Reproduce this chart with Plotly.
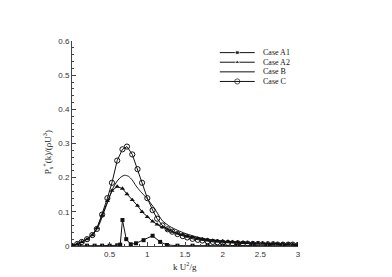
import plotly.graph_objects as go

# ---------------- data ----------------
k_marked = [0, 0.07, 0.13, 0.2, 0.27, 0.33, 0.4, 0.47, 0.53, 0.6, 0.67, 0.73, 0.8, 0.87, 0.93,
            1.0, 1.07, 1.13, 1.2, 1.27, 1.33, 1.4, 1.47, 1.53, 1.6, 1.67, 1.73, 1.8, 1.87, 1.93,
            2.0, 2.07, 2.13, 2.2, 2.27, 2.33, 2.4, 2.47, 2.53, 2.6, 2.67, 2.73, 2.8, 2.87, 2.93, 3.0]

case_c = [0, 0.006, 0.012, 0.02, 0.032, 0.05, 0.092, 0.14, 0.185, 0.25, 0.283, 0.291, 0.268, 0.225, 0.185,
          0.14, 0.105, 0.08, 0.06, 0.049, 0.042, 0.035, 0.029, 0.025, 0.021, 0.018, 0.016, 0.014, 0.012, 0.011,
          0.01, 0.009, 0.008, 0.008, 0.007, 0.007, 0.006, 0.006, 0.005, 0.005, 0.005, 0.004, 0.004, 0.004, 0.004, 0.003]

case_a2 = [0, 0.006, 0.012, 0.02, 0.032, 0.052, 0.09, 0.132, 0.162, 0.174, 0.168, 0.152, 0.135, 0.118, 0.1,
           0.085, 0.072, 0.063, 0.055, 0.048, 0.042, 0.037, 0.033, 0.029, 0.025, 0.022, 0.02, 0.018, 0.016, 0.015,
           0.014, 0.013, 0.012, 0.011, 0.01, 0.009, 0.009, 0.008, 0.008, 0.007, 0.007, 0.006, 0.006, 0.006, 0.005, 0.005]

k_b = [0, 0.1, 0.2, 0.3, 0.35, 0.4, 0.45, 0.5, 0.55, 0.6, 0.65, 0.7, 0.75, 0.8, 0.85, 0.9, 0.95,
       1.0, 1.1, 1.2, 1.3, 1.4, 1.5, 1.6, 1.7, 1.8, 2.0, 2.2, 2.4, 2.6, 2.8, 3.0]
case_b = [0, 0.009, 0.02, 0.04, 0.057, 0.085, 0.115, 0.145, 0.172, 0.19, 0.202, 0.207, 0.204, 0.193, 0.176, 0.162, 0.15,
          0.138, 0.108, 0.074, 0.057, 0.046, 0.037, 0.03, 0.024, 0.02, 0.014, 0.011, 0.008, 0.007, 0.005, 0.004]

k_a1 = [0, 0.1, 0.2, 0.3, 0.4, 0.5, 0.6, 0.64, 0.67, 0.72, 0.78, 0.85, 0.95, 1.07, 1.17, 1.26,
        1.4, 1.6, 1.8, 2.0, 2.2, 2.4, 2.6, 2.8, 3.0]
case_a1 = [0, 0.001, 0.001, 0.001, 0.001, 0.001, 0.002, 0.004, 0.076, 0.02, 0.005, 0.008, 0.017, 0.03, 0.012, 0.003,
           0.001, 0.001, 0.001, 0.001, 0.001, 0.001, 0.001, 0.001, 0.001]

series_names = ["Case A1", "Case A2", "Case B", "Case C"]
x_tick_vals = [0.5, 1, 1.5, 2, 2.5, 3]
x_tick_text = ["0.5", "1", "1.5", "2", "2.5", "3"]
y_tick_vals = [0, 0.1, 0.2, 0.3, 0.4, 0.5, 0.6]
y_tick_text = ["0", "0.1", "0.2", "0.3", "0.4", "0.5", "0.6"]

# ---------------- style / layout ----------------
W, H = 392, 277
OFF = 8  # default page body margin
FW, FH = W - OFF, H - OFF
PL, PR, PT, PB = 72, 298.3, 41, 245.7  # plot area in page pixels
INK = "#111111"
AX = "#444444"
SERIF = "Liberation Serif, Times New Roman, serif"
SANS = "Liberation Sans, Arial, sans-serif"


def px_to_paper(px, py):
    return (px - PL) / (PR - PL), (PB - py) / (PB - PT)


styles = {
    "Case A1": dict(symbol="square", size=4, color=INK),
    "Case A2": dict(symbol="triangle-up", size=4.5, color=INK),
    "Case B": None,
    "Case C": dict(symbol="circle-open", size=5.2, color=INK, line=dict(width=1, color=INK)),
}

fig = go.Figure()
data_map = {
    "Case A1": (k_a1, case_a1),
    "Case A2": (k_marked, case_a2),
    "Case B": (k_b, case_b),
    "Case C": (k_marked, case_c),
}
for name in series_names:
    xs, ys = data_map[name]
    st = styles[name]
    fig.add_trace(go.Scatter(
        x=xs, y=ys, name=name,
        mode="lines+markers" if st else "lines",
        line=dict(color=INK, width=1, shape="spline" if name == "Case B" else "linear", smoothing=0.6),
        marker=st if st else None,
        showlegend=False,
    ))

# manual legend on an overlay axis measured in page pixels
LEG_X0, LEG_X1, LEG_Y0, LEG_DY = 220, 255, 52.6, 9.6
for i, name in enumerate(series_names):
    yy = LEG_Y0 + i * LEG_DY
    st = styles[name]
    fig.add_trace(go.Scatter(
        x=[LEG_X0, (LEG_X0 + LEG_X1) / 2, LEG_X1], y=[yy, yy, yy],
        xaxis="x2", yaxis="y2", mode="lines+markers" if st else "lines",
        line=dict(color=INK, width=1),
        marker=dict(st, size=[0, st["size"], 0]) if st else None,
        showlegend=False, hoverinfo="skip",
    ))
    fig.add_annotation(x=LEG_X1 + 6, y=yy, xref="x2", yref="y2", text=name, showarrow=False,
                       xanchor="left", yanchor="middle", font=dict(family=SERIF, size=8, color=INK))

xt, yt = px_to_paper((PL + PR) / 2, 266)
fig.add_annotation(x=xt, y=yt, xref="paper", yref="paper", text="k U<sup>2</sup>/g",
                   showarrow=False, xanchor="center", yanchor="middle",
                   font=dict(family=SERIF, size=9, color="#222"))
xt, yt = px_to_paper(47, 152)
fig.add_annotation(x=xt, y=yt, xref="paper", yref="paper",
                   text="P<sub>s</sub><sup>+</sup>(k)/(ρU<sup>3</sup>)",
                   showarrow=False, textangle=-90, xanchor="center", yanchor="middle",
                   font=dict(family=SERIF, size=9, color="#222"))

fig.update_layout(
    width=FW, height=FH,
    margin=dict(l=PL - OFF, r=FW - (PR - OFF), t=PT - OFF, b=FH - (PB - OFF), pad=0),
    paper_bgcolor="white", plot_bgcolor="white",
    xaxis=dict(range=[0, 3], tickvals=x_tick_vals, ticktext=x_tick_text,
               showline=True, linecolor=AX, linewidth=1, showgrid=False, zeroline=False,
               ticks="inside", ticklen=4, tickcolor=AX, tickwidth=1,
               minor=dict(ticks="inside", ticklen=2, dtick=0.1, tickcolor=AX),
               tickfont=dict(family=SANS, size=8, color="#333"), mirror=False),
    yaxis=dict(range=[0, 0.6], tickvals=y_tick_vals, ticktext=y_tick_text,
               showline=True, linecolor=AX, linewidth=1, showgrid=False, zeroline=False,
               ticks="inside", ticklen=4, tickcolor=AX, tickwidth=1,
               minor=dict(ticks="inside", ticklen=2, dtick=0.02, tickcolor=AX),
               tickfont=dict(family=SANS, size=8, color="#333"), mirror=False),
    xaxis2=dict(overlaying="x", range=[PL, PR], visible=False, fixedrange=True),
    yaxis2=dict(overlaying="y", range=[PB, PT], visible=False, fixedrange=True),
)

fig.write_html("out.html")
